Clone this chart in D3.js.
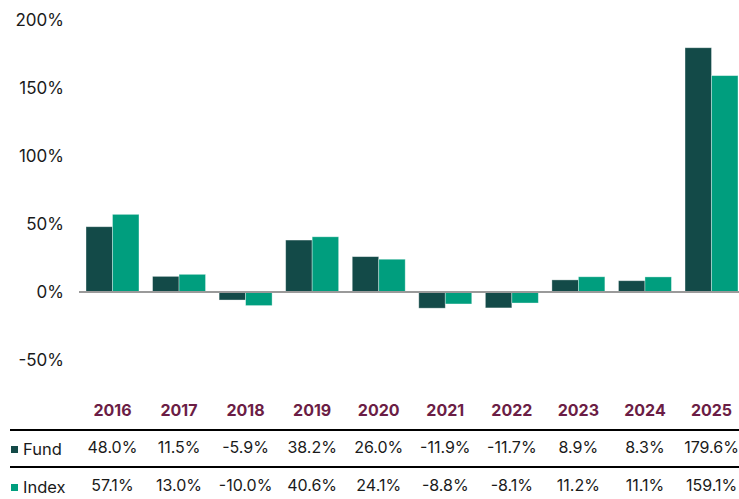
<!DOCTYPE html>
<html>
<head>
<meta charset="utf-8">
<script src="https://cdn.jsdelivr.net/npm/d3@7"></script>
<style>
  html, body { margin: 0; padding: 0; background: #fff; }
  svg { display: block; font-family: "Inter", "Noto Sans", sans-serif; }
</style>
</head>
<body>
<svg id="chart" width="739" height="499"></svg>
<script>
// Calendar-year returns, fund vs index (%)
const years = ["2016", "2017", "2018", "2019", "2020", "2021", "2022", "2023", "2024", "2025"];
const fund  = [48.0, 11.5, -5.9, 38.2, 26.0, -11.9, -11.7, 8.9, 8.3, 179.6];
const index = [57.1, 13.0, -10.0, 40.6, 24.1, -8.8, -8.1, 11.2, 11.1, 159.1];
const seriesNames = ["Fund", "Index"];
const yTicks = [-50, 0, 50, 100, 150, 200];

const colors = { Fund: "#134a48", Index: "#009e7e" };
const W = 739, H = 499;
const svg = d3.select("#chart");

const x = d3.scaleBand().domain(years).range([86, 738]).paddingInner(0.204).paddingOuter(0);
const xs = d3.scaleBand().domain(seriesNames).range([0, x.bandwidth()]);
const y = d3.scaleLinear().domain([-50, 200]).range([360, 20]);

// y axis labels
const yAxis = svg.append("g").attr("transform", "translate(64,0)")
  .call(d3.axisLeft(y).tickValues(yTicks).tickFormat(d => d + "%").tickSize(0).tickPadding(0));
yAxis.select(".domain").remove();
yAxis.selectAll("text")
  .attr("font-family", "Inter, 'Noto Sans', sans-serif")
  .attr("font-size", 17).attr("fill", "#1a1a1a");

// bars
const groups = svg.append("g").selectAll("g").data(years).join("g")
  .attr("transform", d => `translate(${x(d)},0)`);
const vals = { Fund: fund, Index: index };
groups.selectAll("rect")
  .data((d, i) => seriesNames.map(s => ({ s, v: vals[s][i] })))
  .join("rect")
  .attr("x", d => xs(d.s))
  .attr("width", xs.bandwidth())
  .attr("y", d => y(Math.max(0, d.v)))
  .attr("height", d => Math.abs(y(d.v) - y(0)))
  .attr("fill", d => colors[d.s])
  .attr("stroke", "rgba(255,255,255,0.45)")
  .attr("stroke-width", 0.8);

// zero baseline
svg.append("line")
  .attr("x1", 79).attr("x2", W).attr("y1", y(0)).attr("y2", y(0))
  .attr("stroke", "#9a9a9a").attr("stroke-width", 2);

// table: year headers
svg.append("g").selectAll("text").data(years).join("text")
  .attr("x", d => x(d) + x.bandwidth() / 2)
  .attr("y", 416)
  .attr("text-anchor", "middle")
  .attr("font-size", 16).attr("font-weight", 700)
  .attr("fill", "#6b1d45")
  .text(d => d);

// table rules
[430, 467].forEach(yy => svg.append("line")
  .attr("x1", 10).attr("x2", W).attr("y1", yy).attr("y2", yy)
  .attr("stroke", "#000").attr("stroke-width", 2));

// table rows
const rowY = { Fund: 455, Index: 493 };
seriesNames.forEach(s => {
  svg.append("rect").attr("x", 11).attr("y", rowY[s] - 9).attr("width", 7).attr("height", 7)
    .attr("fill", colors[s]);
  svg.append("text").attr("x", 23).attr("y", rowY[s])
    .attr("font-size", 16.5).attr("fill", "#1a1a1a").text(s);
  svg.append("g").selectAll("text").data(vals[s]).join("text")
    .attr("x", (d, i) => x(years[i]) + x.bandwidth() / 2)
    .attr("y", rowY[s] - 2)
    .attr("text-anchor", "middle")
    .attr("font-size", 16).attr("fill", "#1a1a1a")
    .text(d => d.toFixed(1) + "%");
});
</script>
</body>
</html>
